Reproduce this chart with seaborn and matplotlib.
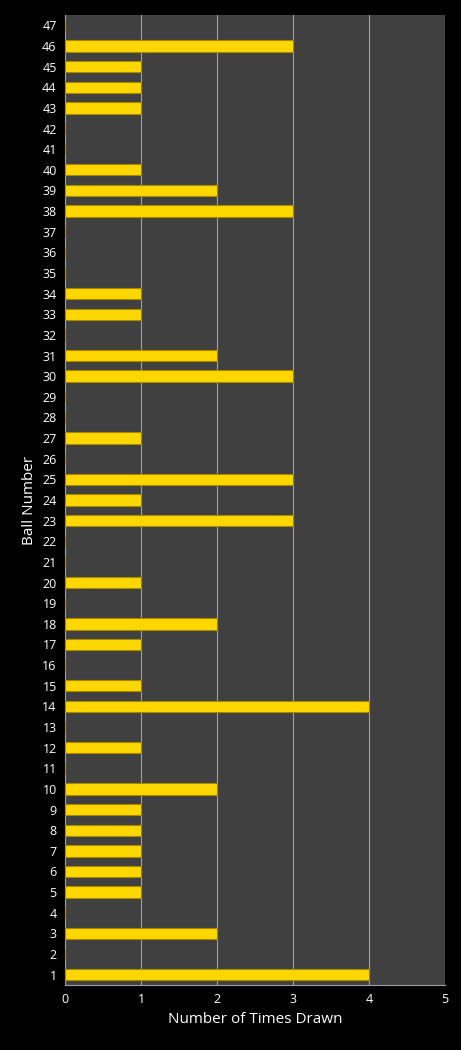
import matplotlib
matplotlib.use("Agg")
import matplotlib.pyplot as plt
import seaborn as sns
import pandas as pd

balls = list(range(1, 48))
counts = [4,0,2,0,1,1,1,1,1,2,0,1,0,4,1,0,1,2,0,1,0,0,3,1,3,0,1,0,0,3,2,0,1,1,0,0,0,3,2,1,0,0,1,1,1,3,0]
df = pd.DataFrame({"ball": balls, "count": counts})

sns.set_style("dark")
plt.rcParams['font.family'] = ['Open Sans', 'DejaVu Sans']
fig = plt.figure(figsize=(4.61, 10.5), dpi=100, facecolor="black")
ax = fig.add_axes([65/461, 1-985/1050, 380/461, 970/1050])
ax.set_facecolor("#404040")
ax.barh(df["ball"], df["count"], height=0.55, color="#FFD700", edgecolor="#A88A00", linewidth=0.8, zorder=3)
ax.set_xlim(0, 5)
ax.set_ylim(0.5, 47.5)
ax.set_xticks(range(6))
ax.set_yticks(balls)
ax.grid(axis="x", color="#A0A0A0", linewidth=0.8, zorder=0)
ax.grid(axis="y", visible=False)
for s in ax.spines.values():
    s.set_visible(False)
ax.spines["left"].set_visible(True); ax.spines["left"].set_color("#A0A0A0")
ax.spines["bottom"].set_visible(True); ax.spines["bottom"].set_color("#A0A0A0")
ax.tick_params(colors="white", labelsize=9, length=0, pad=6)
ax.set_xlabel("Number of Times Drawn", color="white", fontsize=11)
ax.set_ylabel("Ball Number", color="white", fontsize=11)
fig.savefig("out.png", facecolor="black")
